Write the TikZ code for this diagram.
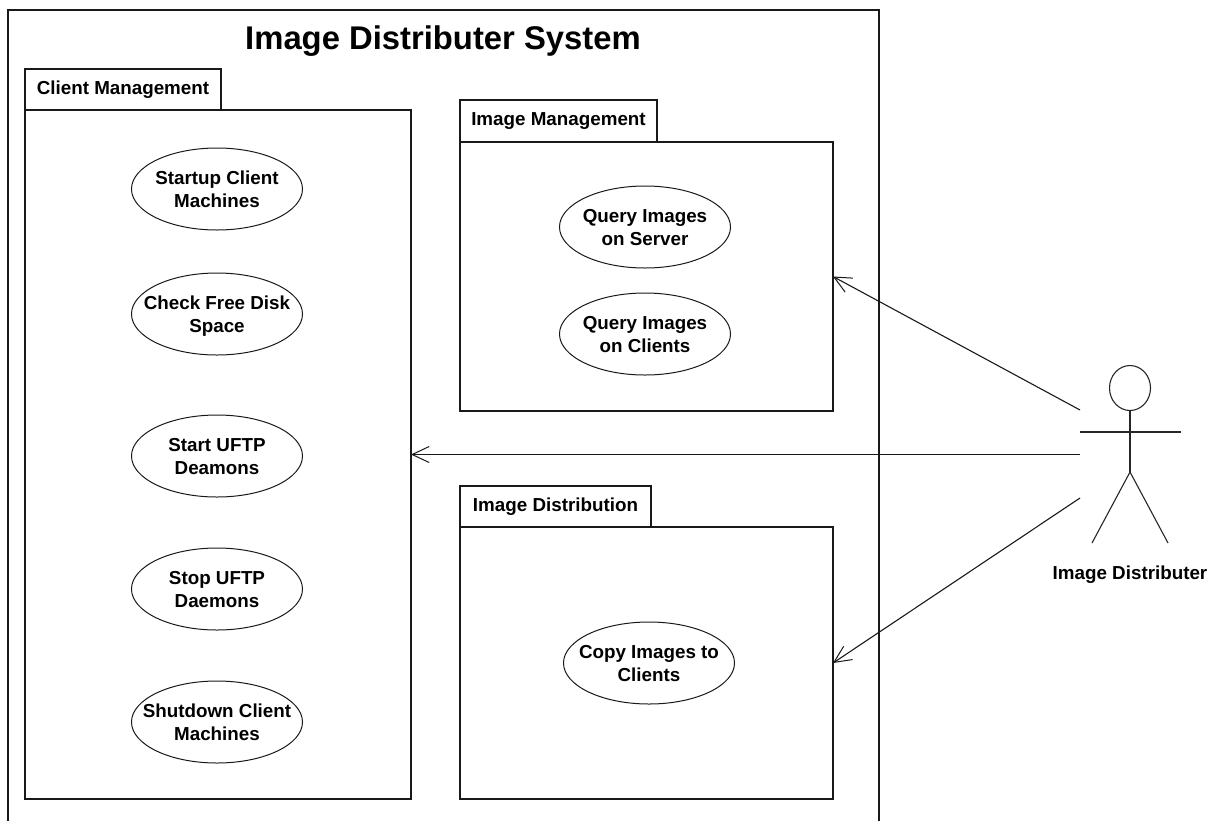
\documentclass[tikz,border=0pt]{standalone}
\usepackage{fontspec}
\setmainfont{Liberation Sans}
\usetikzlibrary{shapes.geometric,arrows.meta}
\newcommand{\uctext}[2]{\makebox[0pt][c]{\smash{\raisebox{-6.5pt}{\begin{tabular}[c]{@{}c@{}}#1\\#2\end{tabular}}}}}
\tikzset{
  x=1pt,y=-1pt,
  pkg/.style={draw=black!90,line width=1.4pt,anchor=north west,inner sep=0pt,outer sep=0pt},
  tabbox/.style={draw=black!90,line width=1.2pt,anchor=north west,inner sep=0pt,outer sep=0pt,font=\fontsize{18.8}{20}\selectfont\bfseries},
  usecase/.style={draw=black!90,line width=1pt,ellipse,minimum width=171pt,minimum height=82pt,inner sep=0pt,outer sep=0pt,font=\fontsize{18.8}{23}\selectfont\bfseries},
  assoc/.style={draw=black!90,line width=1.1pt,-{Straight Barb[length=17pt,width=16pt,line width=1pt]}},
  stick/.style={draw=black!85,line width=1.1pt}
}
\begin{document}
\begin{tikzpicture}
\useasboundingbox (0,0) rectangle (1217,820);
\node[pkg,minimum width=871pt,minimum height=815pt] (sys) at (8,10) {};
\node[font=\fontsize{32.8}{36}\selectfont\bfseries] (title) at (443,41) {Image Distributer System};

\node[tabbox,minimum width=196pt,minimum height=41pt] (tabc) at (25,69) {Client Management};
\node[pkg,minimum width=386pt,minimum height=689pt] (client) at (25,110) {};
\node[tabbox,minimum width=197pt,minimum height=42pt] (tabm) at (460,100) {Image Management};
\node[pkg,minimum width=373pt,minimum height=269pt] (mgmt) at (460,142) {};
\node[tabbox,minimum width=191pt,minimum height=41pt] (tabd) at (460,486) {Image Distribution};
\node[pkg,minimum width=373pt,minimum height=272pt] (dist) at (460,527) {};

\node[usecase] (u1) at (217,189) {\uctext{Startup Client}{Machines}};
\node[usecase] (u2) at (217,314) {\uctext{Check Free Disk}{Space}};
\node[usecase] (u3) at (217,456) {\uctext{Start UFTP}{Deamons}};
\node[usecase] (u4) at (217,589) {\uctext{Stop UFTP}{Daemons}};
\node[usecase] (u5) at (217,722) {\uctext{Shutdown Client}{Machines}};
\node[usecase] (u6) at (645,227) {\uctext{Query Images}{on Server}};
\node[usecase] (u7) at (645,334) {\uctext{Query Images}{on Clients}};
\node[usecase] (u8) at (649,663) {\uctext{Copy Images to}{Clients}};

\node[stick,ellipse,minimum width=41pt,minimum height=45pt,inner sep=0pt,outer sep=0pt] (head) at (1130,388) {};
\coordinate (hip) at (1130,472);
\coordinate (armL) at (1080,432);
\coordinate (armR) at (1181,432);
\coordinate (legL) at (1092,543);
\coordinate (legR) at (1168,543);
\draw[stick] (head.south) -- (hip);
\draw[stick] (armL) -- (armR);
\draw[stick] (legL) -- (hip) -- (legR);
\node[font=\fontsize{18.8}{20}\selectfont\bfseries] (actor) at (1130,575) {Image Distributer};

\coordinate (a1) at (1080,410);
\coordinate (a2) at (1080,454.5);
\coordinate (a3) at (1080,498);
\draw[assoc] (a1) -- (mgmt.east);
\draw[assoc] (a2) -- (client.east);
\draw[assoc] (a3) -- (dist.east);
\end{tikzpicture}
\end{document}
